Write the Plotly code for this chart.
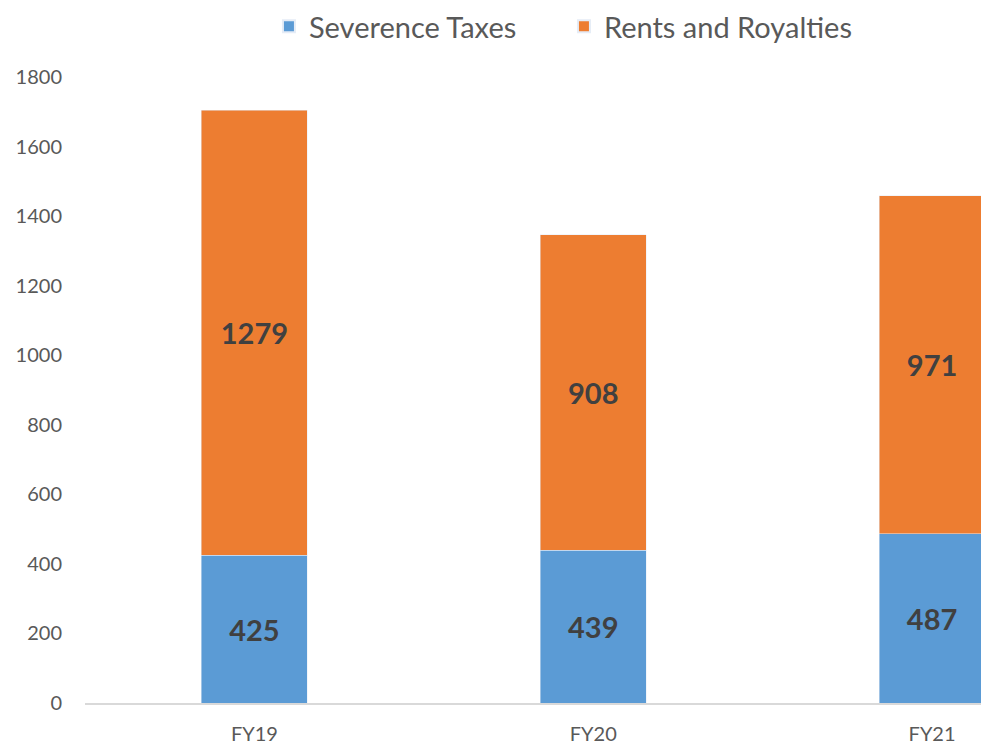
import plotly.graph_objects as go

categories = ["FY19", "FY20", "FY21"]
severance = [425, 439, 487]
rents = [1279, 908, 971]
tick_vals = [0, 200, 400, 600, 800, 1000, 1200, 1400, 1600, 1800]

BLUE = "#5B9BD5"
ORANGE = "#ED7D31"
FONT = "Lato, Carlito, 'Open Sans', sans-serif"

fig = go.Figure()
fig.add_trace(go.Bar(
    name="Severence Taxes", x=categories, y=severance, marker_color=BLUE,
    width=0.313, text=[str(v) for v in severance], textposition="inside",
    insidetextanchor="middle", textangle=0,
    textfont=dict(family=FONT, size=29, color="#404040", weight="bold"),
))
fig.add_trace(go.Bar(
    name="Rents and Royalties", x=categories, y=rents, marker_color=ORANGE,
    width=0.313, text=[str(v) for v in rents], textposition="inside",
    insidetextanchor="middle", textangle=0,
    textfont=dict(family=FONT, size=29, color="#404040", weight="bold"),
))

fig.update_layout(
    barmode="stack",
    width=981, height=736,
    margin=dict(l=77, r=0, t=69, b=41, autoexpand=False),
    paper_bgcolor="white", plot_bgcolor="white",
    font=dict(family=FONT, color="#595959", size=20),
    legend=dict(orientation="h", xref="container", x=0.266, xanchor="left",
                yref="container", y=0.975, yanchor="middle",
                font=dict(size=29, color="#595959"), itemsizing="constant",
                entrywidth=250, entrywidthmode="pixels",
                traceorder="normal"),
    xaxis=dict(range=[-0.5, 2.168], showgrid=False, showline=True, linecolor="#d9d9d9",
               linewidth=1.5, ticks="", tickfont=dict(size=20, color="#595959"),
               ticklabelstandoff=12, automargin=False),
    yaxis=dict(range=[0, 1800], tickvals=tick_vals, showgrid=False, showline=False,
               zeroline=False, ticks="", tickfont=dict(size=20, color="#595959"),
               ticklabelstandoff=22, automargin=False),
    uniformtext=dict(minsize=10, mode="show"),
)

fig.write_html("out.html")
